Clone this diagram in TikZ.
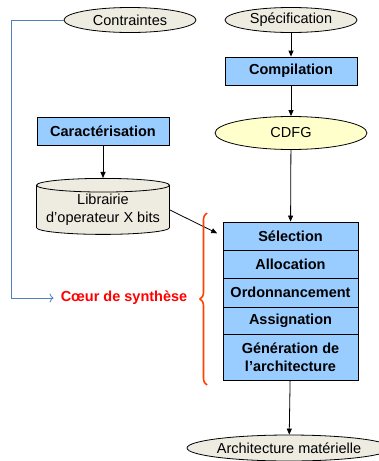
\documentclass[tikz,border=0pt]{standalone}
\usepackage{fontspec}
\setmainfont{Liberation Sans}
\usetikzlibrary{shapes.geometric, arrows.meta, decorations.pathreplacing}
\definecolor{boxblue}{RGB}{153,204,255}
\definecolor{ovalbeige}{RGB}{238,236,225}
\definecolor{ovalyellow}{RGB}{255,255,204}
\definecolor{lineblue}{RGB}{79,129,189}
\definecolor{bracered}{RGB}{255,64,0}
\begin{document}
\begin{tikzpicture}
[every node/.style={inner sep=0pt, font=\fontsize{14.5}{18}\selectfont},
 stepbox/.style={rectangle, draw=black, fill=boxblue, line width=0.8pt, font=\fontsize{14.5}{18}\selectfont\bfseries, minimum width=135pt},
 oval/.style={ellipse, draw=black, fill=ovalbeige, line width=0.8pt, minimum width=132pt, minimum height=25pt},
 arr/.style={line width=0.8pt, -{Triangle[length=6pt, width=5pt]}}]
\useasboundingbox (0pt, 0pt) rectangle (378pt, -461pt);
\node (contr) [oval] at (130pt, -20pt) {Contraintes};
\node (spec) [oval] at (291pt, -20pt) {Spécification};
\node (compil) [stepbox, minimum width=132pt, minimum height=28pt] at (291pt, -71pt) {Compilation};
\node (cdfg) [oval, fill=ovalyellow, minimum width=152pt, minimum height=33pt] at (291pt, -133pt) {CDFG};
\node (carac) [stepbox, minimum width=132pt, minimum height=28pt] at (103pt, -131pt) {Caractérisation};
\node (lib) [cylinder, shape border rotate=90, aspect=0.12, draw=black, fill=ovalbeige, line width=0.8pt, minimum width=133pt, minimum height=56pt, align=center] at (103pt, -210pt) {Librairie\\d’operateur X bits};
\node (sel) [stepbox, minimum height=28pt] at (290.5pt, -236pt) {Sélection};
\node (alloc) [stepbox, minimum height=28pt] at (290.5pt, -264pt) {Allocation};
\node (ordo) [stepbox, minimum height=29pt] at (290.5pt, -292.5pt) {Ordonnancement};
\node (assign) [stepbox, minimum height=27pt] at (290.5pt, -320.5pt) {Assignation};
\node (gen) [stepbox, minimum height=46pt, align=center] at (290.5pt, -357pt) {Génération de\\l’architecture};
\node (archi) [oval, minimum width=178pt, minimum height=26pt] at (289pt, -448pt) {Architecture matérielle};
\node (coeur) [text=red, font=\fontsize{14.5}{18}\selectfont\bfseries] at (124pt, -298pt) {Cœur de synthèse};
\coordinate (bracelow) at (207pt, -385pt);
\coordinate (bracehigh) at (207pt, -213pt);
\draw [arr] (spec) to (compil);
\draw [arr] (compil) to (cdfg);
\draw [arr] (cdfg) to (sel);
\draw [arr] (carac) to (lib);
\draw [arr, shorten >=6pt] (lib.east) to (sel.west);
\draw [arr] (gen) to (archi);
\draw [line width=0.8pt, color=lineblue, -{To[length=4pt, width=9pt]}, shorten >=7pt] (contr.west) -- ++(-52pt, 0pt) |- (coeur.west);
\draw [line width=1.6pt, color=bracered, decorate, decoration={brace, amplitude=7pt}] (bracelow) to (bracehigh);
\end{tikzpicture}
\end{document}
